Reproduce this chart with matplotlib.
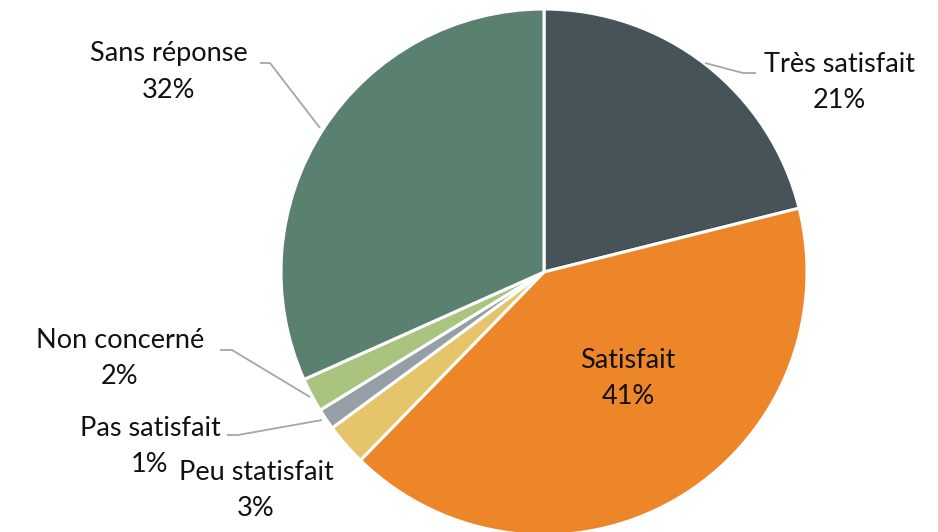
import matplotlib
matplotlib.use("Agg")
from matplotlib import pyplot as plt

# slice data, clockwise from 12 o'clock
labels = ["Très satisfait", "Satisfait", "Peu statisfait", "Pas satisfait", "Non concerné", "Sans réponse"]
values = [21.1, 41.2, 2.6, 1.3, 2.1, 31.7]
colors = ["#465359", "#ED8529", "#E6C46A", "#969FA7", "#A8C47E", "#5A8070"]

# label block centres and leader polylines (pixels, y from top)
label_pos = [(839, 83), (628, 378), (256, 490), (150, 446), (120, 359), (169, 72)]
leaders = {
    0: [(705, 63), (743, 73), (756, 73)],
    3: [(227, 435), (238, 435), (322, 420)],
    4: [(220, 350), (232, 350), (310, 397)],
    5: [(260, 63), (270, 63), (320, 128)],
}

W, H = 938, 532
cx, cy, R = 544, 272, 263

fig = plt.figure(figsize=(W / 100, H / 100), dpi=100)
ax = fig.add_axes([0, 0, 1, 1])

ax.pie(values, colors=colors, startangle=90, counterclock=False, radius=1,
       wedgeprops=dict(edgecolor="white", linewidth=2.2))

ax.set_xlim(-cx / R, (W - cx) / R)
ax.set_ylim(-(H - cy) / R, cy / R)
ax.set_aspect("equal")
ax.axis("off")


def to_data(px, py):
    return (px - cx) / R, (cy - py) / R


for i, pts in leaders.items():
    xs, ys = zip(*[to_data(*p) for p in pts])
    ax.plot(xs, ys, color="#A6A6A6", lw=1.3, solid_capstyle="butt")

for lab, v, (px, py) in zip(labels, values, label_pos):
    x, y = to_data(px, py)
    ax.text(x, y, f"{lab}\n{v:.0f}%", ha="center", va="center", fontsize=19.5,
            family="Lato", color="#111111", linespacing=1.55)

fig.savefig("out.png", dpi=100)
